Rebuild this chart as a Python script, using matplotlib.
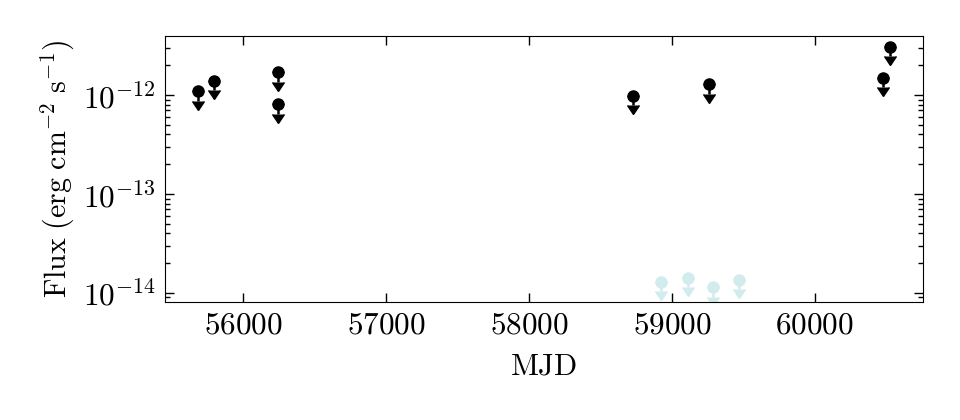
import numpy as np
import matplotlib
matplotlib.use("Agg")
import matplotlib.pyplot as plt

plt.rcParams['font.family'] = 'serif'
plt.rcParams['font.serif'] = ['cmr10', 'DejaVu Serif']
plt.rcParams['mathtext.fontset'] = 'cm'
plt.rcParams['axes.formatter.use_mathtext'] = True
plt.rcParams['axes.unicode_minus'] = False

# upper limits (black)
mjd_ul = np.array([55686, 55796, 56244, 56244, 58729, 59259, 60477, 60522])
flux_ul = np.array([1.10e-12, 1.39e-12, 1.69e-12, 8.1e-13, 9.8e-13, 1.28e-12, 1.50e-12, 3.08e-12])

# deep upper limits (light cyan)
mjd_deep = np.array([58924, 59109, 59290, 59468])
flux_deep = np.array([1.30e-14, 1.43e-14, 1.14e-14, 1.36e-14])

fig, ax = plt.subplots(figsize=(9.6, 4.2), dpi=100)
plt.subplots_adjust(left=0.172, right=0.961, top=0.914, bottom=0.281)

ax.errorbar(mjd_ul, flux_ul, yerr=0.2 * flux_ul, uplims=True, fmt='o',
            color='black', markersize=8, capsize=4.5, elinewidth=1.8)
ax.errorbar(mjd_deep, flux_deep, yerr=0.2 * flux_deep, uplims=True, fmt='o',
            color='#d2eced', markersize=8, capsize=4.5, elinewidth=1.8)

ax.set_yscale('log')
ax.set_xlim(55454, 60753)
ax.set_ylim(8.1e-15, 3.94e-12)
ax.set_xticks([56000, 57000, 58000, 59000, 60000])
ax.set_xticklabels(['$56000$', '$57000$', '$58000$', '$59000$', '$60000$'])

ax.tick_params(which='both', direction='in', top=True, right=True, labelsize=22.5)
ax.tick_params(which='major', length=6.5, width=1, pad=7)
ax.tick_params(which='minor', length=3.5, width=1)
ax.tick_params(axis='x', which='minor', top=False, bottom=False)

ax.set_xlabel(r'$\mathrm{MJD}$', fontsize=22, labelpad=10)
ax.set_ylabel(r'$\mathrm{Flux\ (erg\ cm^{-2}\ s^{-1})}$', fontsize=21.5, labelpad=4)

plt.savefig('out.png', dpi=100)
